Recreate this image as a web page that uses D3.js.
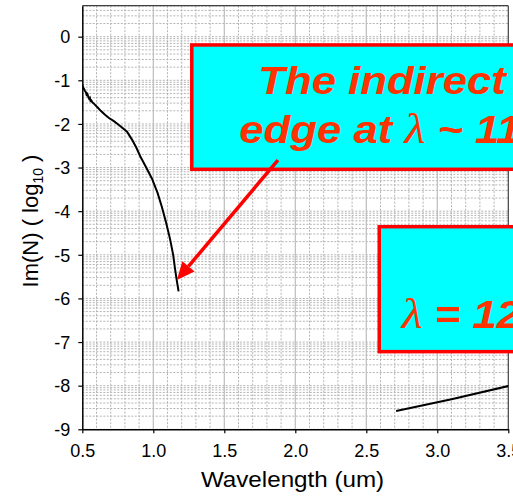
<!DOCTYPE html>
<html><head><meta charset="utf-8">
<script src="https://cdn.jsdelivr.net/npm/d3@7"></script>
<style>html,body{margin:0;padding:0;background:#fff;overflow:hidden}</style>
</head><body><svg id="c" width="513" height="496"></svg>
<script>
// ---- data ----
const xTicks = [0.5, 1.0, 1.5, 2.0, 2.5, 3.0, 3.5];
const xTickLabels = ["0.5", "1.0", "1.5", "2.0", "2.5", "3.0", "3.5"];
const yTicks = [0, -1, -2, -3, -4, -5, -6, -7, -8, -9];
const yTickLabels = ["0", "-1", "-2", "-3", "-4", "-5", "-6", "-7", "-8", "-9"];
const indirectX = [0.500,0.505,0.512,0.518,0.525,0.530,0.536,0.542,0.548,0.553,0.558,0.563,0.570,0.580,0.595,0.610,0.630,0.660,0.690,0.720,0.760,0.790,0.815,0.850,0.880,0.908,0.950,0.990,1.030,1.060,1.090,1.118,1.140,1.153,1.165,1.178];
const indirectY = [-1.10,-1.16,-1.20,-1.24,-1.27,-1.33,-1.31,-1.38,-1.42,-1.40,-1.47,-1.46,-1.50,-1.53,-1.58,-1.63,-1.70,-1.79,-1.87,-1.93,-2.03,-2.11,-2.18,-2.36,-2.54,-2.74,-3.00,-3.25,-3.58,-3.90,-4.26,-4.64,-5.00,-5.32,-5.58,-5.84];
const directX = [2.71, 3.10, 3.55];
const directY = [-8.58, -8.31, -7.97];
const box1 = {x0: 1.271, y0: -0.19, y1: -3.04, line1: "The indirect band", line2a: "edge at ", lam: "λ", line2b: " ~ 1100 nm"};
const box2 = {x0: 2.591, y0: -4.356, y1: -7.22, pre: "λ", post: " = 1200 nm"};
const arrowFrom = [1.878, -2.83];
const arrowTo = [1.166, -5.58];
const xTitle = "Wavelength (um)";

// ---- layout ----
const svg = d3.select("#c");
const L = 82.3, R = 508.3, T = 5.7, B = 429.3;
const x = d3.scaleLinear().domain([0.5, 3.5]).range([L, R]);
const y = d3.scaleLinear().domain([-9, 0.71]).range([B, T]);

svg.append("defs").append("clipPath").attr("id","plot")
  .append("rect").attr("x",L).attr("y",T).attr("width",R-L).attr("height",B-T);

const grid = svg.append("g").attr("clip-path","url(#plot)");
const minorX = d3.range(6, 35).map(d => d/10).filter(d => Math.abs(d*2 - Math.round(d*2)) > 1e-6);
grid.selectAll(".mvx").data(minorX).join("line")
  .attr("x1", d=>x(d)).attr("x2", d=>x(d)).attr("y1", T).attr("y2", B)
  .attr("stroke","#b4b4b4").attr("stroke-width",1).attr("stroke-dasharray","2,1.5");
const minorY = [];
for (let n = -9; n <= 0; n++) for (let k = 1; k <= 9; k++) minorY.push(n + Math.log10(k));
grid.selectAll(".mhy").data(minorY.filter(v => v <= 0.71)).join("line")
  .attr("x1", L).attr("x2", R).attr("y1", d=>y(d)).attr("y2", d=>y(d))
  .attr("stroke","#b4b4b4").attr("stroke-width",1).attr("stroke-dasharray","2,1.5");
grid.selectAll(".Mvx").data(xTicks.slice(1,-1)).join("line")
  .attr("x1", d=>x(d)).attr("x2", d=>x(d)).attr("y1", T).attr("y2", B)
  .attr("stroke","#bdbdbd").attr("stroke-width",1.2);

svg.append("line").attr("x1",L).attr("x2",R).attr("y1",T).attr("y2",T).attr("stroke","#404040").attr("stroke-width",1.2);
svg.append("line").attr("x1",R).attr("x2",R).attr("y1",T).attr("y2",B).attr("stroke","#404040").attr("stroke-width",1.2);

const line = d3.line().x(d=>x(d[0])).y(d=>y(d[1]));
const curves = svg.append("g").attr("clip-path","url(#plot)");
curves.append("path").datum(indirectX.map((v,i)=>[v, indirectY[i]]))
  .attr("d", line).attr("fill","none").attr("stroke","#000").attr("stroke-width",2);
curves.append("path").datum(directX.map((v,i)=>[v, directY[i]]))
  .attr("d", line).attr("fill","none").attr("stroke","#000").attr("stroke-width",2);

const xAxis = svg.append("g").attr("transform",`translate(0,${B})`)
  .call(d3.axisBottom(x).tickValues(xTicks).tickFormat((d,i)=>xTickLabels[i]).tickSize(4).tickSizeOuter(0));
xAxis.select(".domain").attr("stroke","#000").attr("stroke-width",1.5);
xAxis.selectAll(".tick line").attr("stroke","#000").attr("stroke-width",1.2);
xAxis.selectAll("text").attr("font-family","Liberation Sans, Arial, sans-serif").attr("font-size",18).attr("fill","#000").attr("dy",0).attr("y",28);

const yAxis = svg.append("g").attr("transform",`translate(${L},0)`)
  .call(d3.axisLeft(y).tickValues(yTicks).tickFormat((d,i)=>yTickLabels[i]).tickSize(4).tickSizeOuter(0));
yAxis.select(".domain").attr("stroke","#000").attr("stroke-width",1.5);
yAxis.selectAll(".tick line").attr("stroke","#000").attr("stroke-width",1.2);
yAxis.selectAll("text").attr("font-family","Liberation Sans, Arial, sans-serif").attr("font-size",18).attr("fill","#000").attr("x",-12).attr("dy","0.35em");

svg.append("text").attr("transform",`translate(292.5,486.5) scale(1.1,1)`)
  .attr("text-anchor","middle").attr("font-family","Liberation Sans, Arial, sans-serif")
  .attr("font-size",22).attr("fill","#000").text(xTitle);
const yt = svg.append("text").attr("transform",`translate(37.5,221) rotate(-90)`)
  .attr("text-anchor","middle").attr("font-family","Liberation Sans, Arial, sans-serif")
  .attr("font-size",22).attr("fill","#000");
yt.append("tspan").text("Im(N)  ( log");
yt.append("tspan").attr("font-size",14).attr("dy",5).text("10");
yt.append("tspan").attr("dy",-5).text(" )");

const red = "#ff0000", txt = "#ff3300", cyan = "#00ffff";
function box(b) {
  const bx = x(b.x0), by0 = y(b.y0), by1 = y(b.y1);
  svg.append("rect").attr("x",bx).attr("y",by0).attr("width",560-bx).attr("height",by1-by0)
    .attr("fill",cyan).attr("stroke",red).attr("stroke-width",3.5);
  return [bx, by0];
}
const [b1x, b1y] = box(box1);
const [b2x, b2y] = box(box2);

const ax0 = x(arrowFrom[0]), ay0 = y(arrowFrom[1]), ax1 = x(arrowTo[0]), ay1 = y(arrowTo[1]);
const ang = Math.atan2(ay1-ay0, ax1-ax0);
const hl = 18, hw = 8;
const bxp = ax1 - hl*Math.cos(ang), byp = ay1 - hl*Math.sin(ang);
svg.append("line").attr("x1",ax0).attr("y1",ay0).attr("x2",bxp).attr("y2",byp)
  .attr("stroke",red).attr("stroke-width",3.5);
svg.append("path").attr("d", d3.line()([[ax1,ay1],
  [bxp + hw*Math.sin(ang), byp - hw*Math.cos(ang)],
  [bxp - hw*Math.sin(ang), byp + hw*Math.cos(ang)]]) + "Z").attr("fill",red);

const fontB = "Liberation Sans, Arial, sans-serif";
const fontL = "Liberation Serif, Times New Roman, serif";
function tline(px, py) {
  return svg.append("text").attr("transform",`translate(${px},${py}) scale(1.15,1)`)
    .attr("font-family",fontB).attr("font-weight","bold").attr("font-style","italic")
    .attr("font-size",38).attr("fill",txt);
}
tline(b1x+66.5, b1y+49).text(box1.line1);
const l2 = tline(b1x+47.5, b1y+98.5);
l2.append("tspan").text(box1.line2a);
l2.append("tspan").attr("font-family",fontL).attr("font-weight","normal").attr("font-size",42).text(box1.lam);
l2.append("tspan").text(box1.line2b);
const l3 = tline(b2x+22.5, b2y+101.5);
l3.append("tspan").attr("font-family",fontL).attr("font-weight","normal").attr("font-size",42).text(box2.pre);
l3.append("tspan").text(box2.post);
</script></body></html>
